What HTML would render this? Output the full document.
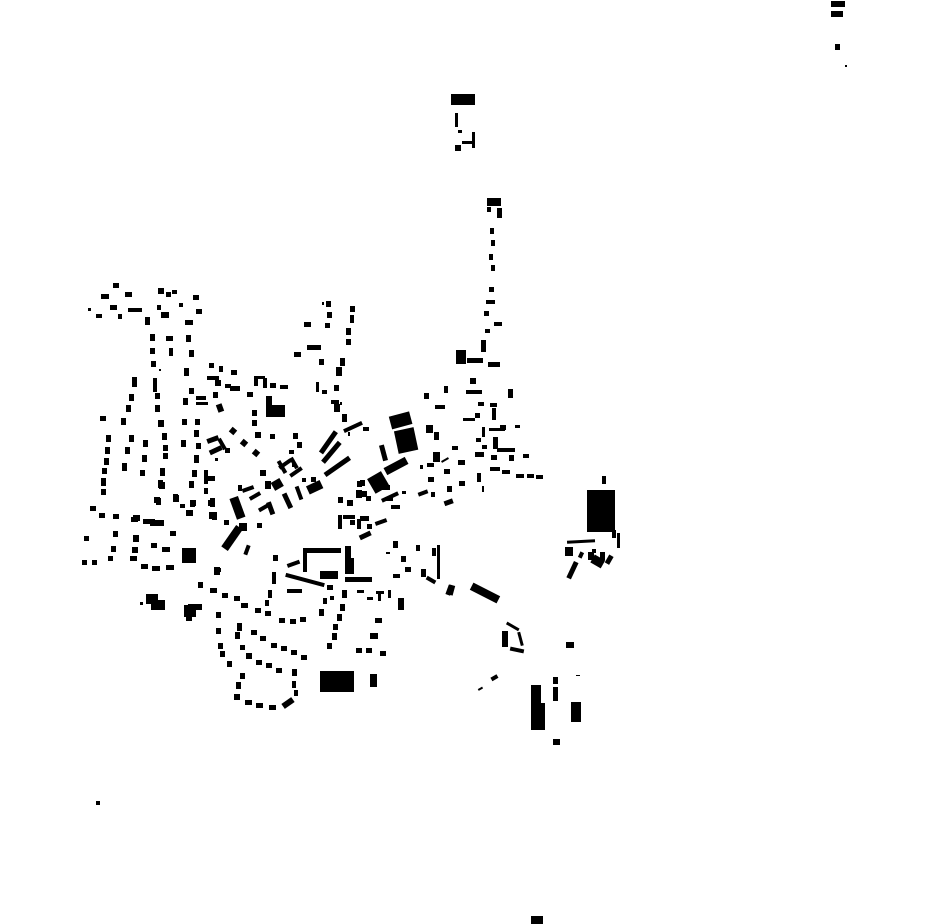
<!DOCTYPE html>
<html><head><meta charset="utf-8"><style>html,body{margin:0;padding:0;background:#fff}svg{display:block}</style></head>
<body>
<svg width="930" height="924" viewBox="0 0 930 924" xmlns="http://www.w3.org/2000/svg">
<g fill="#000">
<!-- top right -->
<rect x="831" y="1" width="14" height="6"/><rect x="831" y="11" width="12" height="6"/><rect x="835" y="44" width="5" height="6"/><rect x="845" y="65" width="2" height="2"/>
<!-- top -->
<rect x="451" y="94" width="24" height="11"/><rect x="455" y="113" width="3" height="14"/><rect x="458" y="130" width="4" height="3"/><rect x="462" y="141" width="10" height="3"/><rect x="472" y="132" width="3" height="16"/><rect x="455" y="145" width="6" height="6"/>
<rect x="487" y="198" width="14" height="8"/><rect x="487" y="207" width="4" height="5"/><rect x="497" y="208" width="5" height="10"/>
<rect x="490" y="228" width="4" height="6"/><rect x="491" y="240" width="4" height="6"/><rect x="489" y="254" width="4" height="6"/><rect x="491" y="265" width="4" height="6"/><rect x="489" y="287" width="5" height="5"/><rect x="486" y="300" width="9" height="4"/><rect x="484" y="311" width="5" height="5"/><rect x="494" y="322" width="8" height="4"/><rect x="485" y="329" width="5" height="4"/><rect x="481" y="340" width="5" height="12"/>
<rect x="456" y="350" width="10" height="14"/><rect x="467" y="358" width="16" height="5"/><rect x="488" y="362" width="12" height="5"/><rect x="470" y="378" width="6" height="6"/><rect x="466" y="390" width="16" height="4"/><rect x="508" y="389" width="5" height="9"/><rect x="478" y="402" width="6" height="4"/><rect x="490" y="403" width="7" height="4"/><rect x="492" y="408" width="4" height="12"/><rect x="489" y="428" width="16" height="3"/><rect x="500" y="425" width="6" height="5"/><rect x="515" y="425" width="5" height="3"/><rect x="463" y="418" width="12" height="3"/><rect x="475" y="413" width="5" height="5"/><rect x="482" y="427" width="3" height="10"/><rect x="493" y="437" width="5" height="12"/><rect x="497" y="448" width="18" height="4"/><rect x="476" y="438" width="5" height="4"/><rect x="482" y="445" width="5" height="4"/><rect x="493" y="440" width="5" height="5"/><rect x="475" y="452" width="9" height="5"/><rect x="491" y="455" width="6" height="5"/><rect x="509" y="455" width="5" height="6"/><rect x="523" y="454" width="6" height="4"/><rect x="490" y="467" width="10" height="4"/><rect x="502" y="470" width="8" height="4"/><rect x="516" y="474" width="8" height="4"/><rect x="527" y="474" width="7" height="4"/><rect x="536" y="475" width="7" height="4"/><rect x="477" y="473" width="4" height="9"/><rect x="482" y="486" width="2" height="6"/>
<rect x="424" y="393" width="5" height="6"/><rect x="444" y="386" width="4" height="7"/><rect x="435" y="405" width="10" height="4"/><rect x="426" y="425" width="7" height="8"/><rect x="434" y="432" width="5" height="8"/><rect x="433" y="452" width="7" height="10"/><rect x="452" y="446" width="6" height="4"/>
<!-- central big -->
<rect x="390" y="414" width="21" height="13" transform="rotate(-15 400 420)"/><rect x="396" y="429" width="20" height="23" transform="rotate(-12 406 440)"/><rect x="381" y="445" width="5" height="16" transform="rotate(-15 383 453)"/><rect x="384" y="462" width="24" height="8" transform="rotate(-28 396 466)"/><rect x="370" y="474" width="16" height="17" transform="rotate(-30 378 482)"/>
<rect x="357" y="481" width="5" height="6"/><rect x="362" y="491" width="5" height="6"/><rect x="366" y="496" width="5" height="5"/><rect x="385" y="497" width="8" height="4"/><rect x="391" y="505" width="6" height="4"/><rect x="402" y="491" width="4" height="3"/><rect x="418" y="491" width="10" height="4" transform="rotate(-20 423 493)"/><rect x="431" y="492" width="4" height="5"/><rect x="444" y="500" width="9" height="5" transform="rotate(-20 448 502)"/><rect x="447" y="486" width="5" height="6"/><rect x="459" y="481" width="6" height="5"/><rect x="444" y="469" width="6" height="5"/><rect x="427" y="463" width="7" height="4"/><rect x="441" y="459" width="8" height="2" transform="rotate(-30 445 460)"/><rect x="458" y="460" width="7" height="5"/><rect x="428" y="477" width="6" height="5"/><rect x="420" y="465" width="3" height="4"/>
<!-- north-center column -->
<rect x="326" y="301" width="5" height="6"/><rect x="327" y="312" width="5" height="6"/><rect x="325" y="323" width="5" height="5"/><rect x="350" y="306" width="5" height="6"/><rect x="350" y="315" width="4" height="8"/><rect x="346" y="328" width="5" height="7"/><rect x="346" y="339" width="5" height="6"/><rect x="304" y="322" width="7" height="5"/><rect x="294" y="352" width="7" height="5"/><rect x="307" y="345" width="14" height="5"/><rect x="319" y="359" width="5" height="6"/><rect x="340" y="358" width="5" height="8"/><rect x="336" y="367" width="6" height="9"/><rect x="316" y="382" width="3" height="10"/><rect x="334" y="385" width="5" height="6"/><rect x="322" y="390" width="5" height="4"/><rect x="331" y="400" width="8" height="4"/><rect x="334" y="404" width="6" height="8"/><rect x="340" y="402" width="2" height="3"/><rect x="343" y="425" width="20" height="4" transform="rotate(-25 353 427)"/><rect x="342" y="414" width="5" height="8"/><rect x="363" y="427" width="6" height="4"/><rect x="348" y="432" width="2" height="4"/><rect x="322" y="302" width="2" height="3"/>
<!-- long diagonal buildings -->
<rect x="315" y="440" width="26" height="5" transform="rotate(-55 328 442)"/><rect x="318" y="450" width="26" height="5" transform="rotate(-50 331 452)"/><rect x="322" y="464" width="30" height="5" transform="rotate(-35 337 466)"/><rect x="307" y="483" width="15" height="9" transform="rotate(-25 314 487)"/><rect x="311" y="477" width="5" height="5"/>
<rect x="278" y="462" width="14" height="4" transform="rotate(-35 285 464)"/><rect x="280" y="460" width="4" height="14" transform="rotate(-30 282 467)"/><rect x="289" y="470" width="14" height="4" transform="rotate(-35 296 472)"/><rect x="292" y="457" width="4" height="12" transform="rotate(-30 294 463)"/><rect x="272" y="480" width="10" height="9" transform="rotate(-30 277 484)"/><rect x="285" y="493" width="5" height="16" transform="rotate(-25 287 501)"/><rect x="297" y="486" width="4" height="14" transform="rotate(-20 299 493)"/><rect x="293" y="433" width="5" height="6"/><rect x="297" y="442" width="5" height="6"/><rect x="289" y="450" width="5" height="4"/><rect x="292" y="463" width="4" height="4"/><rect x="302" y="478" width="4" height="4"/>
<rect x="233" y="497" width="9" height="22" transform="rotate(-20 237 508)"/><rect x="242" y="487" width="12" height="4" transform="rotate(-20 248 489)"/><rect x="249" y="494" width="12" height="4" transform="rotate(-30 255 496)"/><rect x="258" y="505" width="14" height="4" transform="rotate(-30 265 507)"/><rect x="268" y="502" width="5" height="13" transform="rotate(-20 270 508)"/><rect x="238" y="485" width="4" height="6"/><rect x="228" y="525" width="8" height="26" transform="rotate(35 232 538)"/><rect x="239" y="523" width="8" height="8"/><rect x="245" y="545" width="4" height="10" transform="rotate(20 247 550)"/><rect x="257" y="523" width="5" height="5"/>
<!-- west cluster -->
<rect x="113" y="283" width="6" height="5"/><rect x="101" y="294" width="8" height="5"/><rect x="125" y="292" width="7" height="5"/><rect x="158" y="288" width="6" height="6"/><rect x="166" y="292" width="5" height="5"/><rect x="172" y="290" width="5" height="4"/><rect x="193" y="295" width="6" height="5"/><rect x="88" y="308" width="3" height="3"/><rect x="96" y="314" width="6" height="4"/><rect x="110" y="305" width="7" height="5"/><rect x="128" y="308" width="14" height="4"/><rect x="118" y="314" width="4" height="5"/><rect x="145" y="317" width="5" height="8"/><rect x="157" y="305" width="4" height="5"/><rect x="161" y="312" width="8" height="6"/><rect x="179" y="303" width="4" height="4"/><rect x="196" y="309" width="6" height="5"/><rect x="185" y="320" width="8" height="5"/>
<rect x="150" y="334" width="5" height="7"/><rect x="150" y="348" width="5" height="6"/><rect x="151" y="361" width="5" height="6"/><rect x="166" y="336" width="7" height="5"/><rect x="169" y="348" width="4" height="8"/><rect x="186" y="335" width="5" height="7"/><rect x="189" y="350" width="5" height="7"/><rect x="184" y="368" width="5" height="8"/><rect x="159" y="369" width="2" height="2"/><rect x="132" y="377" width="5" height="10"/><rect x="129" y="394" width="5" height="7"/><rect x="126" y="405" width="5" height="7"/><rect x="121" y="418" width="5" height="7"/><rect x="100" y="416" width="6" height="5"/>
<rect x="153" y="378" width="4" height="14"/><rect x="155" y="393" width="5" height="6"/><rect x="155" y="405" width="5" height="7"/><rect x="158" y="420" width="6" height="7"/><rect x="162" y="433" width="5" height="7"/><rect x="163" y="445" width="5" height="6"/><rect x="163" y="453" width="5" height="6"/><rect x="160" y="468" width="5" height="8"/><rect x="158" y="480" width="5" height="8"/><rect x="156" y="498" width="5" height="7"/>
<rect x="106" y="435" width="5" height="7"/><rect x="105" y="447" width="5" height="7"/><rect x="104" y="458" width="5" height="7"/><rect x="102" y="468" width="5" height="6"/><rect x="101" y="478" width="5" height="8"/><rect x="101" y="489" width="5" height="6"/><rect x="129" y="435" width="5" height="7"/><rect x="125" y="447" width="5" height="7"/><rect x="122" y="463" width="5" height="8"/><rect x="143" y="440" width="5" height="7"/><rect x="142" y="455" width="5" height="7"/><rect x="140" y="470" width="5" height="6"/><rect x="173" y="497" width="6" height="5"/><rect x="180" y="504" width="5" height="4"/>
<rect x="189" y="388" width="5" height="6"/><rect x="183" y="398" width="5" height="7"/><rect x="182" y="419" width="5" height="6"/><rect x="181" y="440" width="5" height="7"/><rect x="195" y="419" width="5" height="6"/><rect x="194" y="430" width="5" height="7"/><rect x="196" y="443" width="5" height="6"/><rect x="194" y="455" width="5" height="8"/><rect x="192" y="470" width="5" height="7"/><rect x="189" y="481" width="5" height="7"/><rect x="190" y="500" width="5" height="7"/><rect x="186" y="510" width="5" height="6"/><rect x="173" y="494" width="5" height="6"/>
<rect x="90" y="506" width="6" height="5"/><rect x="99" y="513" width="6" height="5"/><rect x="113" y="514" width="6" height="5"/><rect x="131" y="517" width="7" height="5"/><rect x="143" y="519" width="12" height="5"/><rect x="152" y="520" width="10" height="4"/>
<rect x="209" y="363" width="5" height="5"/><rect x="219" y="366" width="4" height="6"/><rect x="231" y="370" width="6" height="5"/><rect x="207" y="376" width="12" height="4"/><rect x="215" y="380" width="6" height="6"/><rect x="225" y="384" width="6" height="4"/><rect x="230" y="386" width="10" height="5"/><rect x="247" y="392" width="6" height="5"/><rect x="254" y="376" width="4" height="10"/><rect x="255" y="376" width="10" height="3"/><rect x="263" y="378" width="4" height="10"/><rect x="270" y="383" width="6" height="5"/><rect x="280" y="385" width="8" height="4"/><rect x="266" y="396" width="6" height="12"/><rect x="266" y="405" width="19" height="12"/><rect x="213" y="392" width="5" height="6"/><rect x="196" y="396" width="10" height="4"/><rect x="196" y="402" width="12" height="3"/><rect x="217" y="404" width="6" height="8" transform="rotate(-20 220 408)"/><rect x="252" y="410" width="5" height="6"/><rect x="252" y="420" width="5" height="6"/><rect x="255" y="432" width="6" height="6"/><rect x="230" y="428" width="6" height="6" transform="rotate(40 233 431)"/><rect x="241" y="440" width="6" height="6" transform="rotate(40 244 443)"/><rect x="253" y="450" width="6" height="6" transform="rotate(40 256 453)"/><rect x="270" y="434" width="5" height="5"/><rect x="207" y="437" width="12" height="5" transform="rotate(-20 213 440)"/><rect x="209" y="448" width="13" height="5" transform="rotate(-25 215 450)"/><rect x="220" y="438" width="4" height="12" transform="rotate(-30 222 444)"/><rect x="225" y="448" width="5" height="5"/><rect x="215" y="458" width="3" height="3"/><rect x="204" y="470" width="4" height="14"/><rect x="208" y="476" width="7" height="5"/><rect x="204" y="488" width="4" height="6"/><rect x="210" y="498" width="5" height="9"/><rect x="212" y="512" width="5" height="8"/><rect x="224" y="520" width="5" height="5"/><rect x="260" y="470" width="6" height="6"/><rect x="265" y="481" width="6" height="8"/>
<!-- middle south -->
<rect x="159" y="482" width="6" height="7"/><rect x="154" y="497" width="6" height="6"/><rect x="173" y="495" width="6" height="6"/><rect x="190" y="500" width="6" height="6"/><rect x="187" y="510" width="6" height="6"/><rect x="208" y="500" width="5" height="6"/><rect x="209" y="512" width="5" height="7"/><rect x="133" y="515" width="7" height="6"/><rect x="150" y="520" width="14" height="6"/><rect x="170" y="531" width="6" height="5"/><rect x="133" y="535" width="6" height="7"/><rect x="151" y="543" width="6" height="5"/><rect x="162" y="547" width="8" height="5"/><rect x="132" y="547" width="6" height="6"/><rect x="130" y="556" width="7" height="5"/><rect x="141" y="564" width="7" height="5"/><rect x="152" y="566" width="8" height="5"/><rect x="166" y="565" width="8" height="5"/><rect x="182" y="548" width="14" height="15"/><rect x="113" y="531" width="5" height="6"/><rect x="111" y="546" width="5" height="6"/><rect x="108" y="556" width="5" height="5"/><rect x="84" y="536" width="5" height="5"/><rect x="82" y="560" width="5" height="5"/><rect x="92" y="560" width="5" height="5"/>
<rect x="146" y="594" width="12" height="10"/><rect x="151" y="600" width="14" height="10"/><rect x="140" y="602" width="3" height="3"/><rect x="184" y="605" width="12" height="12"/><rect x="188" y="604" width="14" height="6"/><rect x="186" y="615" width="6" height="6"/>
<rect x="198" y="582" width="5" height="6"/><rect x="210" y="588" width="7" height="5"/><rect x="222" y="593" width="6" height="5"/><rect x="234" y="596" width="6" height="5"/><rect x="241" y="603" width="7" height="5"/><rect x="255" y="608" width="6" height="5"/><rect x="265" y="611" width="6" height="5"/><rect x="279" y="618" width="6" height="5"/><rect x="290" y="619" width="6" height="5"/><rect x="300" y="617" width="6" height="5"/><rect x="214" y="567" width="6" height="8"/><rect x="216" y="612" width="5" height="6"/><rect x="216" y="628" width="5" height="6"/><rect x="218" y="643" width="5" height="6"/><rect x="220" y="651" width="5" height="6"/><rect x="227" y="661" width="5" height="6"/><rect x="237" y="623" width="5" height="8"/><rect x="235" y="632" width="5" height="7"/><rect x="251" y="630" width="6" height="5"/><rect x="260" y="636" width="6" height="5"/><rect x="271" y="643" width="6" height="5"/><rect x="281" y="646" width="6" height="5"/><rect x="291" y="650" width="6" height="5"/><rect x="301" y="655" width="6" height="5"/><rect x="240" y="645" width="5" height="5"/><rect x="246" y="653" width="6" height="6"/><rect x="256" y="660" width="6" height="5"/><rect x="266" y="663" width="6" height="5"/><rect x="276" y="668" width="6" height="5"/><rect x="292" y="669" width="5" height="7"/><rect x="292" y="681" width="4" height="7"/><rect x="294" y="690" width="4" height="6"/><rect x="240" y="673" width="5" height="6"/><rect x="236" y="682" width="5" height="7"/><rect x="234" y="694" width="6" height="6"/><rect x="245" y="700" width="7" height="5"/><rect x="256" y="703" width="7" height="5"/><rect x="269" y="705" width="7" height="5"/><rect x="282" y="700" width="12" height="6" transform="rotate(-35 288 703)"/>
<rect x="320" y="671" width="34" height="21"/><rect x="370" y="674" width="7" height="13"/>
<!-- U-building -->
<rect x="303" y="548" width="38" height="5"/><rect x="303" y="550" width="4" height="22"/><rect x="345" y="546" width="6" height="28"/><rect x="349" y="558" width="5" height="16"/><rect x="320" y="571" width="18" height="8"/><rect x="345" y="577" width="27" height="5"/><rect x="285" y="578" width="40" height="4" transform="rotate(15 305 580)"/><rect x="287" y="589" width="15" height="4"/><rect x="287" y="562" width="13" height="4" transform="rotate(-20 293 564)"/><rect x="273" y="555" width="5" height="6"/><rect x="272" y="572" width="4" height="12"/><rect x="268" y="590" width="4" height="8"/><rect x="265" y="600" width="4" height="6"/><rect x="217" y="568" width="4" height="4"/>
<rect x="342" y="590" width="5" height="8"/><rect x="340" y="604" width="5" height="7"/><rect x="337" y="614" width="5" height="7"/><rect x="333" y="624" width="5" height="6"/><rect x="332" y="633" width="5" height="7"/><rect x="327" y="643" width="5" height="6"/><rect x="319" y="609" width="5" height="7"/><rect x="323" y="598" width="4" height="6"/><rect x="327" y="585" width="6" height="5"/><rect x="330" y="596" width="4" height="4"/>
<rect x="357" y="590" width="7" height="3"/><rect x="367" y="597" width="6" height="3"/><rect x="376" y="591" width="8" height="3"/><rect x="378" y="591" width="3" height="10"/><rect x="388" y="590" width="3" height="8"/><rect x="398" y="598" width="6" height="12"/><rect x="375" y="618" width="7" height="5"/><rect x="370" y="633" width="8" height="6"/><rect x="356" y="648" width="6" height="5"/><rect x="366" y="648" width="6" height="5"/><rect x="380" y="651" width="6" height="5"/><rect x="393" y="541" width="5" height="7"/><rect x="401" y="556" width="5" height="6"/><rect x="405" y="567" width="6" height="5"/><rect x="393" y="574" width="7" height="4"/><rect x="386" y="552" width="4" height="2"/><rect x="416" y="545" width="4" height="6"/><rect x="437" y="545" width="3" height="34"/><rect x="432" y="548" width="4" height="8"/><rect x="421" y="569" width="5" height="8"/><rect x="426" y="578" width="10" height="4" transform="rotate(30 431 580)"/><rect x="447" y="585" width="5" height="10" transform="rotate(20 449 590)"/><rect x="338" y="497" width="5" height="6"/><rect x="347" y="500" width="6" height="6"/><rect x="338" y="515" width="4" height="14"/><rect x="343" y="515" width="12" height="4"/><rect x="350" y="520" width="5" height="5"/><rect x="357" y="519" width="4" height="10"/><rect x="359" y="533" width="12" height="5" transform="rotate(-25 365 535)"/><rect x="360" y="516" width="9" height="5"/><rect x="367" y="524" width="5" height="5"/><rect x="375" y="520" width="12" height="4" transform="rotate(-20 381 522)"/><rect x="381" y="495" width="18" height="4" transform="rotate(-25 390 497)"/><rect x="394" y="505" width="6" height="4"/><rect x="360" y="480" width="5" height="6"/><rect x="356" y="490" width="6" height="8"/><rect x="376" y="482" width="5" height="6"/><rect x="380" y="485" width="10" height="5"/>
<!-- bottom right scattered -->
<rect x="470" y="589" width="30" height="8" transform="rotate(27 485 593)"/><rect x="448" y="585" width="6" height="10" transform="rotate(15 451 590)"/>
<rect x="506" y="625" width="14" height="3" transform="rotate(30 513 626)"/><rect x="519" y="632" width="3" height="14" transform="rotate(-15 520 639)"/><rect x="502" y="631" width="6" height="16"/><rect x="510" y="648" width="14" height="4" transform="rotate(12 517 650)"/>
<rect x="566" y="642" width="8" height="6"/><rect x="491" y="676" width="7" height="4" transform="rotate(-30 494 678)"/><rect x="478" y="688" width="5" height="2" transform="rotate(-30 480 689)"/><rect x="531" y="685" width="10" height="18"/><rect x="531" y="703" width="14" height="27"/><rect x="553" y="677" width="5" height="7"/><rect x="553" y="687" width="5" height="14"/><rect x="571" y="702" width="10" height="20"/><rect x="576" y="675" width="4" height="1"/><rect x="553" y="739" width="7" height="6"/><rect x="96" y="801" width="4" height="4"/><rect x="531" y="916" width="12" height="8"/>
<!-- right cluster -->
<rect x="587" y="490" width="28" height="42"/><rect x="590" y="490" width="10" height="6"/><rect x="602" y="476" width="4" height="8"/><rect x="610" y="492" width="5" height="12"/><rect x="617" y="533" width="3" height="15"/><rect x="612" y="530" width="4" height="8"/><rect x="567" y="540" width="28" height="3" transform="rotate(-3 581 541)"/><rect x="565" y="547" width="8" height="9"/><rect x="570" y="561" width="5" height="18" transform="rotate(25 572 570)"/><rect x="579" y="552" width="4" height="6" transform="rotate(25 581 555)"/><rect x="588" y="552" width="6" height="8"/><rect x="592" y="557" width="12" height="9" transform="rotate(30 598 561)"/><rect x="600" y="552" width="5" height="8"/><rect x="607" y="555" width="5" height="9" transform="rotate(30 609 559)"/><rect x="592" y="549" width="4" height="4"/>
</g>
</svg>
</body></html>
